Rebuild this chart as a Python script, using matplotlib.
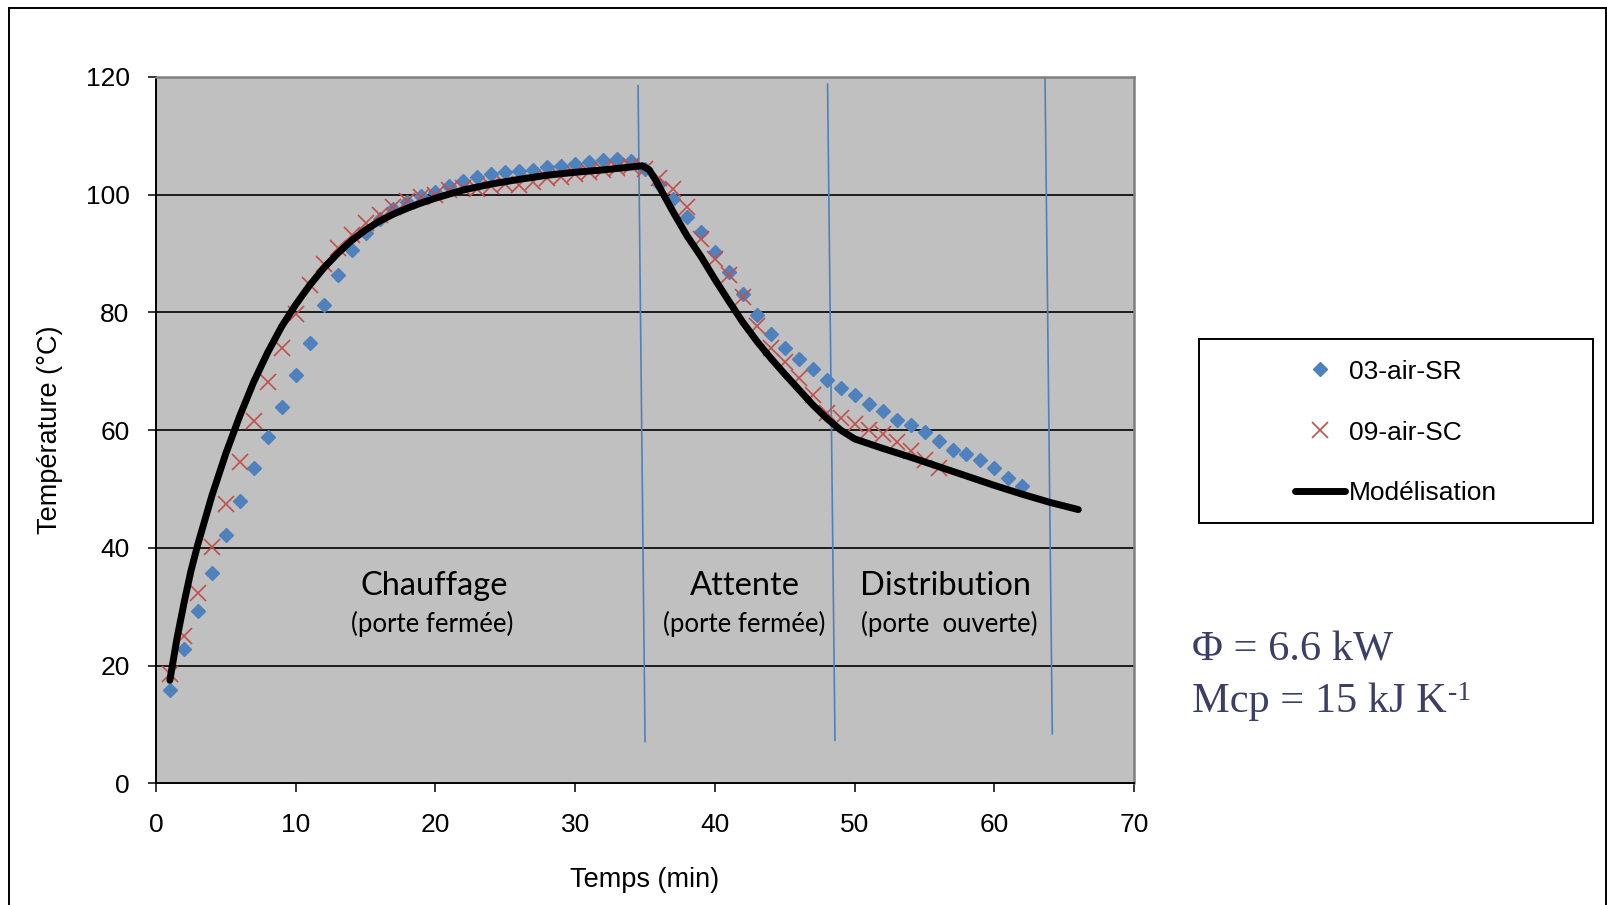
import matplotlib
matplotlib.use("Agg")
import matplotlib.pyplot as plt
from matplotlib.lines import Line2D
from matplotlib.patches import Rectangle

# Mesures, une valeur par minute
temps_sr = list(range(1, 63))
temp_sr = [15.8, 22.8, 29.2, 35.8, 42.1, 48.0, 53.6, 58.8, 64.0, 69.4,
           74.8, 81.2, 86.3, 90.6, 93.4, 95.8, 97.6, 98.8, 99.7, 100.5,
           101.4, 102.3, 103.0, 103.5, 103.8, 104.0, 104.2, 104.7, 104.9, 105.2,
           105.6, 105.9, 106.1, 105.7, 104.3, 101.8, 99.3, 96.2, 93.6, 90.3,
           86.9, 83.2, 79.5, 76.4, 74.0, 72.1, 70.4, 68.5, 67.1, 65.9,
           64.5, 63.2, 61.8, 60.8, 59.7, 58.1, 56.7, 55.9, 54.9, 53.6,
           51.9, 50.5]

temps_sc = list(range(1, 57))
temp_sc = [18.5, 25.0, 32.4, 40.2, 47.4, 54.6, 61.5, 68.1, 74.0, 79.7,
           84.6, 88.2, 91.0, 93.2, 95.2, 96.6, 97.9, 99.0, 99.6, 100.0,
           100.8, 101.2, 101.0, 101.5, 101.8, 101.6, 102.2, 102.8, 103.0, 103.5,
           103.8, 104.2, 104.5, 104.8, 104.3, 102.9, 101.0, 97.9, 92.5, 89.1,
           86.3, 82.6, 77.7, 73.9, 71.6, 68.8, 66.0, 62.9, 62.1, 61.0,
           60.0, 59.3, 57.9, 56.4, 54.9, 53.6]

# Modele (chauffage, attente, distribution)
temps_mod = [1, 1.5, 2, 2.5, 3, 4, 5, 6, 7, 8, 9, 10, 11, 12, 13, 14, 15, 16, 17, 18, 19,
             20, 22, 24, 26, 28, 30, 32, 34, 34.8, 35.3, 35.8, 36.3, 37, 38, 39, 40, 41, 42,
             43, 44, 45, 46, 47, 48, 49, 50, 52, 54, 56, 58, 60, 62, 64, 66]
temp_mod = [17.5, 24.5, 30.5, 36.0, 40.6, 48.8, 56.0, 62.4, 68.2, 73.2, 77.6, 81.3, 84.6,
            87.5, 90.0, 92.2, 94.0, 95.5, 96.7, 97.7, 98.6, 99.4, 100.8, 101.8, 102.6,
            103.3, 103.8, 104.2, 104.7, 104.9, 104.2, 102.3, 100.1, 97.1, 93.0, 89.5, 85.6,
            81.9, 78.3, 75.1, 72.2, 69.5, 66.9, 64.3, 62.0, 60.0, 58.5, 56.9, 55.4,
            53.8, 52.2, 50.6, 49.1, 47.7, 46.5]

# Separations entre les phases
phase_t_haut = [34.5, 48.06, 63.62]
phase_t_bas = [35.0, 48.59, 64.14]
phase_T_haut = [118.5, 118.8, 119.8]
phase_T_bas = [7.1, 7.3, 8.4]

phases = ["Chauffage", "Attente", "Distribution"]
portes = ["(porte fermée)", "(porte fermée)", "(porte  ouverte)"]
phase_centres = [19.9, 42.15, 56.47]
porte_centres = [19.8, 42.07, 56.77]

x_ticks = [0, 10, 20, 30, 40, 50, 60, 70]
y_ticks = [0, 20, 40, 60, 80, 100, 120]

BLEU = "#4F81BD"
ROUGE = "#C0504D"
SANS = "Liberation Sans"

W, H = 1608, 905
fig = plt.figure(figsize=(W / 100, H / 100), dpi=100)
fig.patch.set_facecolor("white")

ax = fig.add_axes([155.9 / W, 1 - 783.3 / H, (1134.2 - 155.9) / W, (783.3 - 76.9) / H])
ax.set_facecolor("#C0C0C0")
ax.set_xlim(0, 70)
ax.set_ylim(0, 120)
ax.set_xticks(x_ticks)
ax.set_yticks(y_ticks)
for lab in ax.get_xticklabels() + ax.get_yticklabels():
    lab.set_fontfamily(SANS)
    lab.set_fontsize(19)
ax.tick_params(axis="x", direction="out", length=6.5, width=1.1, pad=15)
ax.tick_params(axis="y", direction="out", length=6, width=1.1, pad=13)

for s in ["left", "bottom"]:
    ax.spines[s].set_color("black")
    ax.spines[s].set_linewidth(1.4)
for s in ["top", "right"]:
    ax.spines[s].set_color("#808080")
    ax.spines[s].set_linewidth(1.8)

for y in y_ticks[1:-1]:
    ax.axhline(y, color="black", lw=1.2, zorder=1)

for th, tb, yh, yb in zip(phase_t_haut, phase_t_bas, phase_T_haut, phase_T_bas):
    ax.plot([th, tb], [yh, yb], color=BLEU, lw=1.2, zorder=2)

ax.plot(temps_sr, temp_sr, ls="none", marker="D", ms=7.2, color=BLEU,
        label="03-air-SR", zorder=3)
ax.plot(temps_sc, temp_sc, ls="none", marker="x", ms=11, mew=1.2, color=ROUGE,
        label="09-air-SC", zorder=4)
ax.plot(temps_mod, temp_mod, color="black", lw=5, solid_capstyle="round",
        solid_joinstyle="round", label="Modélisation", zorder=5)

for nom, x in zip(phases, phase_centres):
    ax.text(x, 32.0, nom, ha="center", va="baseline", fontfamily="Lato", fontsize=23.5)
for nom, x in zip(portes, porte_centres):
    ax.text(x, 25.7, nom, ha="center", va="baseline", fontfamily="Lato", fontsize=18.5)

ax.set_xlabel("Temps (min)", fontfamily=SANS, fontsize=19.5)
ax.set_ylabel("Température (°C)", fontfamily=SANS, fontsize=19.5)
ax.xaxis.label.set_va("center")
ax.yaxis.label.set_va("center")
ax.xaxis.set_label_coords(0.5, -0.1369)
ax.yaxis.set_label_coords(-0.1082, 0.5)

# legende dans un cadre blanc (cadre dessine sous les axes)
fig.add_artist(Rectangle((1199 / W, 1 - 523.3 / H), (1593.3 - 1199) / W, (523.3 - 339.3) / H,
                         transform=fig.transFigure, facecolor="white", edgecolor="black",
                         lw=1.4, zorder=-1))
leg = ax.legend(loc="center left", bbox_to_anchor=(1295 / W, 1 - 432.5 / H),
                bbox_transform=fig.transFigure, frameon=False, borderpad=0, borderaxespad=0,
                handlelength=1.9, handletextpad=0.15, labelspacing=1.4,
                prop={"family": SANS, "size": 19})

# cadre general
fig.add_artist(Line2D([9 / W, 9 / W], [0, 1 - 8 / H], transform=fig.transFigure, color="black", lw=1.4))
fig.add_artist(Line2D([9 / W, 1606 / W], [1 - 8 / H, 1 - 8 / H], transform=fig.transFigure, color="black", lw=1.4))
fig.add_artist(Line2D([1606 / W, 1606 / W], [0, 1 - 8 / H], transform=fig.transFigure, color="black", lw=1.4))

# parametres du modele
ANNOT = "#3B3F66"
SERIF = "Liberation Serif"
fig.text(1191.7 / W, 1 - 660.7 / H, "Φ = 6.6 kW", ha="left", va="baseline",
         fontfamily=SERIF, fontsize=30.5, color=ANNOT)
mcp = fig.text(1191.7 / W, 1 - 711.7 / H, "Mcp = 15 kJ K", ha="left", va="baseline",
               fontfamily=SERIF, fontsize=30.5, color=ANNOT)
fig.canvas.draw()
bb = mcp.get_window_extent()
fig.text((bb.x1 + 2) / W, 1 - 700 / H, "-1", ha="left", va="baseline",
         fontfamily=SERIF, fontsize=20, color=ANNOT)

fig.savefig("out.png", dpi=100)
